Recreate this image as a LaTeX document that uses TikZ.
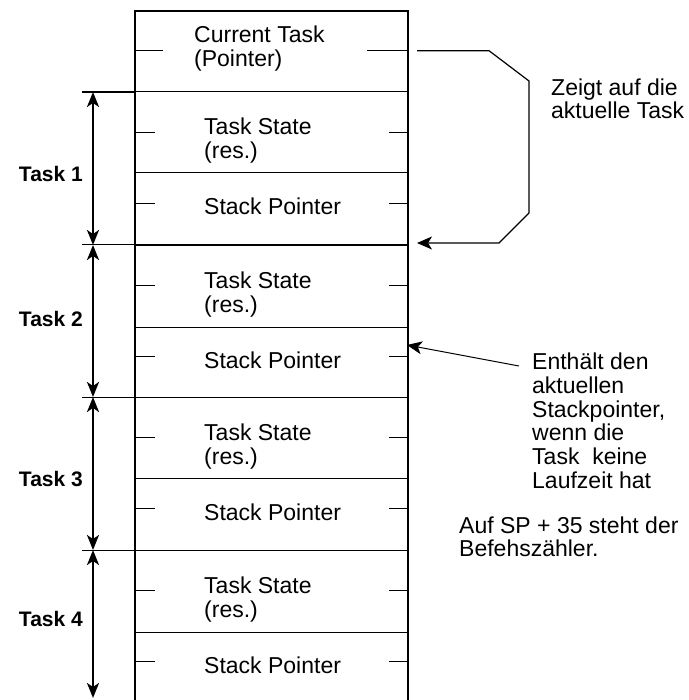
\documentclass[tikz,border=0pt]{standalone}
\usepackage{fontspec}
\setmainfont{Liberation Sans}
\usetikzlibrary{arrows.meta}
% several lines whose first baseline is the node's base
\newcommand{\stackedlines}[2][23.5]{{\fontsize{23}{#1}\selectfont\begin{tabular}[t]{@{}l@{}}#2\end{tabular}}}
\tikzset{
  frame/.style={line width=2pt},
  rowline/.style={line width=1pt},
  notch/.style={line width=0.9pt},
  celltext/.style={anchor=base west, inner sep=0pt},
  tasklabel/.style={anchor=base east, inner sep=0pt, font=\bfseries\fontsize{21}{21}\selectfont},
  taskspan/.style={line width=2.2pt, {Stealth[length=15pt,width=12pt,inset=4pt]}-{Stealth[length=15pt,width=12pt,inset=4pt]}},
  pointer/.style={line width=1.2pt, -{Stealth[length=15pt,width=13pt,inset=4pt]}},
}
\begin{document}
\begin{tikzpicture}[x=1pt,y=-1pt]
\useasboundingbox (0,0) rectangle (688,700);

% memory column, open at the bottom
\draw[frame] (134.5,700) -- (134.5,11.5) -- (408,11.5) -- (408,700);

% row dividers
\foreach \y in {173,327,478,632}
  \draw[rowline] (134.5,\y) -- (408,\y);
\draw[rowline] (134.5,92) -- (408,92);
\draw[line width=1.8pt] (134.5,245) -- (408,245);
\draw[rowline] (134.5,397) -- (408,397);
\draw[rowline] (134.5,550) -- (408,550);

% task boundaries continued to the left
\draw[line width=1.6pt] (82,92) -- (134.5,92);
\foreach \y in {245,397,550}
  \draw[rowline] (82,\y) -- (134.5,\y);

% current task cell
\node[celltext] (cur) at (194,43) {\stackedlines[23]{Current Task\\(Pointer)}};
\draw[notch] (134.5,50.7) -- (163,50.7);
\draw[notch] (367,50.7) -- (408,50.7);

% task blocks
\foreach \i/\y in {1/92,2/245,3/397,4/550} {
  \node[celltext] (ts\i) at (204,\y+43) {\stackedlines[24]{Task State\\(res.)}};
  \node[celltext] (sp\i) at (204,\y+123) {\stackedlines{Stack Pointer}};
  \draw[notch] (134.5,\y+40) -- (155,\y+40);
  \draw[notch] (389,\y+40) -- (408,\y+40);
  \draw[notch] (134.5,\y+111) -- (155,\y+111);
  \draw[notch] (389,\y+111) -- (408,\y+111);
}

% task labels and extents
\node[tasklabel] (t1) at (83,181.7) {Task 1};
\node[tasklabel] (t2) at (83,326.7) {Task 2};
\node[tasklabel] (t3) at (83,486.7) {Task 3};
\node[tasklabel] (t4) at (83,626.7) {Task 4};
\coordinate (b0) at (93,92);
\coordinate (b1) at (93,245);
\coordinate (b2) at (93,397);
\coordinate (b3) at (93,550);
\coordinate (b4) at (93,698);
\draw[taskspan] (b0) -- (b1);
\draw[taskspan] (b1) -- (b2);
\draw[taskspan] (b2) -- (b3);
\draw[taskspan] (b3) -- (b4);

% current task pointer
\coordinate (curout) at (417,50.7);
\coordinate (task1in) at (417,243);
\draw[pointer] (curout) -- (489,50.7) -- (529,81) -- (529,213) -- (499,243) -- (task1in);
\node[celltext] (zeigt) at (551,95.5) {\stackedlines[21.5]{Zeigt auf die\\aktuelle Task}};

% stack pointer note
\node[celltext] (enth) at (532,369.5) {\stackedlines[23.7]{Enthält den\\aktuellen\\Stackpointer,\\wenn die\\Task~ keine\\Laufzeit hat}};
\coordinate (noteend) at (519,366);
\coordinate (sp2edge) at (407,345);
\draw[pointer, line width=1pt] (noteend) -- (sp2edge);

\node[celltext] (auf) at (459,533) {\stackedlines[22]{Auf SP + 35 steht der\\Befehszähler.}};
\end{tikzpicture}
\end{document}
